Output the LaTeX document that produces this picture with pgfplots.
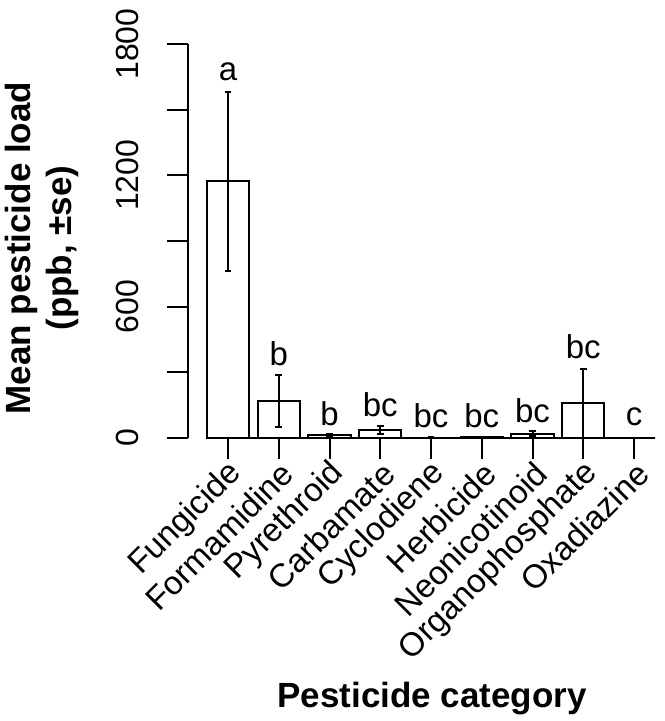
\documentclass[border=0pt]{standalone}
\usepackage{fontspec}
\setmainfont{Liberation Sans}
\usepackage{pgfplots}
\pgfplotsset{compat=1.18}
\begin{document}
\begin{tikzpicture}
\begin{axis}[
  name=ax,
  scale only axis,
  width=238pt, height=197pt,
  xmin=-0.788, xmax=8.59,
  ymin=0, ymax=1800,
  clip=false,
  axis x line*=bottom, axis y line*=left,
  x axis line style={draw=none},
  y axis line style={line width=1pt, -},
  tick align=outside,
  major tick length=10.5pt, minor tick length=10.5pt,
  tick style={black, line width=1pt},
  xtick={0,...,8},
  xticklabels={Fungicide,Formamidine,Pyrethroid,Carbamate,Cyclodiene,Herbicide,Neonicotinoid,Organophosphate,Oxadiazine},
  ytick={0,600,1200,1800},
  minor ytick={300,900,1500},
  /pgf/number format/assume math mode=true,
  /pgf/number format/1000 sep={},
  yticklabel style={font=\fontsize{16}{19}\selectfont, xshift=-14pt, rotate=90, anchor=south, inner sep=0pt},
  xticklabel style={font=\fontsize{16.5}{19}\selectfont, xshift=4.5pt, yshift=-4.5pt, rotate=45, anchor=east, inner sep=0pt},
  xlabel={Pesticide category},
  xlabel style={font=\bfseries\fontsize{17.5}{21}\selectfont, at={(axis description cs:0.513,-0.683)}, anchor=base},
  ylabel={Mean pesticide load\\(ppb, ±se)},
  ylabel style={font=\bfseries\fontsize{17.5}{20.5}\selectfont, align=center, at={(axis description cs:-0.307,0.482)}, anchor=center},
]
\addplot[ybar, bar width=0.833, fill=white, draw=black, line width=1pt,
  error bars/.cd, y dir=both, y explicit,
  error bar style={line width=1pt, black},
  error mark options={rotate=90, mark size=1.7pt, line width=1pt}]
coordinates {
(0,1172) +- (0,408)
(1,170) +- (0,118)
(2,12) +- (0,5)
(3,37) +- (0,19)
(4,2) +- (0,1)
(5,3) +- (0,2)
(6,20) +- (0,12)
(7,158) +- (0,156)
(8,0) +- (0,0)
};
\draw[line width=1pt] (axis cs:-0.4165,0) -- (axis cs:8.4165,0);
\begin{scope}[every node/.style={anchor=base, font=\fontsize{16.5}{19}\selectfont}]
\node at (axis cs:0,1635) {a};
\node at (axis cs:1,333) {b};
\node at (axis cs:2,59) {b};
\node at (axis cs:3,97) {bc};
\node at (axis cs:4,50) {bc};
\node at (axis cs:5,46) {bc};
\node at (axis cs:6,73) {bc};
\node at (axis cs:7,365) {bc};
\node at (axis cs:8,59) {c};
\end{scope}
\end{axis}
\pgfresetboundingbox
\path (ax.south west) ++(-94pt,-141.5pt) rectangle ++(332pt,360.5pt);
\end{tikzpicture}
\end{document}
